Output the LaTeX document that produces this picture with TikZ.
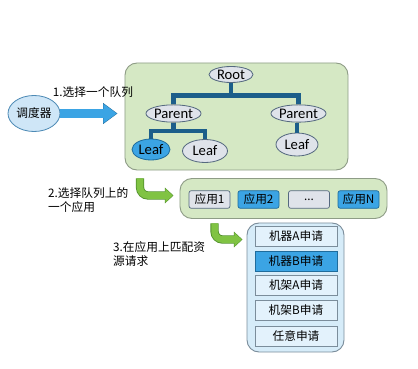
\documentclass[tikz,border=0pt]{standalone}
\usepackage{fontspec}
\setmainfont{Carlito}
\newfontfamily\cjk{Noto Sans CJK SC}
\usetikzlibrary{arrows.meta, shapes.geometric, positioning, calc}

\definecolor{panelgreen}{HTML}{D5E8C4}
\definecolor{paneledge}{HTML}{8E9C86}
\definecolor{ovalfill}{HTML}{DFE3EA}
\definecolor{ovaledge}{HTML}{55697F}
\definecolor{pickblue}{HTML}{3BA4E4}
\definecolor{pickedge}{HTML}{1F6C9C}
\definecolor{branchblue}{HTML}{1C5E8A}
\definecolor{schedfill}{HTML}{CFE6F7}
\definecolor{schededge}{HTML}{4D8AB5}
\definecolor{reqpanel}{HTML}{D6ECF9}
\definecolor{reqfill}{HTML}{E3F2FC}
\definecolor{reqedge}{HTML}{7B8D9B}
\definecolor{arrowgreen}{HTML}{80C343}
\definecolor{arrowedge}{HTML}{4F8F2A}

\begin{document}
\begin{tikzpicture}[
    x=0.03cm, y=-0.03cm,
    panel/.style={
        rectangle, rounded corners=0.36cm, draw=paneledge,
        fill=panelgreen, line width=0.8pt, inner sep=0
    },
    oval/.style={
        ellipse, draw=ovaledge, fill=ovalfill, line width=0.7pt,
        inner sep=0, font=\fontsize{12.5}{14}\selectfont
    },
    ovalon/.style={oval, fill=pickblue, draw=pickedge},
    app/.style={
        rectangle, rounded corners=2pt, draw=ovaledge, fill=ovalfill,
        line width=0.6pt, minimum width=1.23cm, minimum height=0.53cm,
        inner sep=0, font=\cjk\fontsize{10}{12}\selectfont
    },
    appon/.style={app, fill=pickblue, draw=pickedge},
    req/.style={
        rectangle, draw=reqedge, fill=reqfill, line width=0.6pt,
        minimum width=2.46cm, minimum height=0.6cm,
        inner sep=0, font=\cjk\fontsize{10}{12}\selectfont
    },
    reqon/.style={req, fill=pickblue, draw=pickedge},
    branch/.style={draw=branchblue, line width=4pt},
    pick/.style={draw=arrowgreen, line width=5.6pt, rounded corners=0.24cm,
        -{Triangle[length=0.22cm, width=0.4cm]}, shorten >=0.7pt,
        preaction={draw=arrowedge, line width=7pt, shorten >=0pt,
        -{Triangle[length=0.26cm, width=0.46cm]}}},
    lbl/.style={font=\cjk\fontsize{10}{12}\selectfont, align=left, inner sep=0}
]
\useasboundingbox (0,0) rectangle (418,369);

% queue tree
\node[panel, minimum width=6.69cm, minimum height=3.21cm] (queues) at (236.5,116.5) {};
\node[oval, minimum width=1.32cm, minimum height=0.48cm] (root) at (231,74.5) {Root};
\node[oval, minimum width=1.59cm, minimum height=0.52cm] (parentA) at (173.5,113.5) {Parent};
\node[oval, minimum width=1.59cm, minimum height=0.52cm] (parentB) at (298.5,113.5) {Parent};
\node[ovalon, minimum width=1.14cm, minimum height=0.63cm] (leafA) at (151,149.5) {Leaf};
\node[oval, minimum width=1.35cm, minimum height=0.69cm] (leafB) at (205,151) {Leaf};
\node[oval, minimum width=1.26cm, minimum height=0.69cm] (leafC) at (297,144.5) {Leaf};

\draw[branch] (root.south) -- ++(0,12.5) -| (parentA.north);
\draw[branch] (root.south) -- ++(0,12.5) -| (parentB.north);
\draw[branch] (parentA.south) -- ++(0,8.5) -| (leafA.north);
\draw[branch] (parentA.south) -- ++(0,8.5) -| (leafB.north);
\draw[branch] (leafC.north) -- (leafC.north |- parentB.south);

% scheduler
\node[ellipse, draw=schededge, fill=schedfill, line width=0.7pt, inner sep=0,
      minimum width=1.56cm, minimum height=1.08cm, font=\cjk\fontsize{10}{12}\selectfont]
      (sched) at (34,113.5) {调度器};
\draw[draw=pickblue, line width=7pt, -{Triangle[length=0.4cm, width=0.55cm]}, shorten >=0.6pt,
      preaction={draw=pickedge, line width=8pt, shorten >=0pt, -{Triangle[length=0.43cm, width=0.6cm]}}]
      (sched.east) -- ([xshift=-0.21cm]queues.west |- sched.east);
\node[lbl] (step1) at (93,92) {1.选择一个队列};

% applications
\node[panel, minimum width=6.21cm, minimum height=1.2cm] (apps) at (283.5,198.5) {};
\node[app]   (app1) at (209.5,199.5) {应用1};
\node[appon] (app2) at (258.5,199.5) {应用2};
\node[app]   (appx) at (309,199.5)   {...};
\node[appon] (appn) at (358.5,199.5) {应用N};
\draw[pick] ([xshift=0.465cm, yshift=-0.24cm]queues.south west) |- ([xshift=-0.18cm, yshift=0.09cm]apps.west);
\node[lbl, anchor=west] (step2) at (48,200) {2.选择队列上的\\一个应用};

% resource requests
\node[rectangle, rounded corners=0.36cm, draw=reqedge, fill=reqpanel, line width=0.8pt,
      minimum width=2.91cm, minimum height=3.87cm] (reqs) at (295.5,287.5) {};
\node[req]   (reqA) at (296,236.5) {机器A申请};
\node[reqon] (reqB) at (296,261)   {机器B申请};
\node[req]   (reqC) at (296,285)   {机架A申请};
\node[req]   (reqD) at (296,310.5) {机架B申请};
\node[req]   (reqE) at (296,336)   {任意申请};
\draw[pick] ([xshift=1.05cm, yshift=-0.135cm]apps.south west) |- ([xshift=-0.12cm, yshift=-0.51cm]reqs.north west);
\node[lbl, anchor=west] (step3) at (113,254) {3.在应用上匹配资\\源请求};

\end{tikzpicture}
\end{document}
